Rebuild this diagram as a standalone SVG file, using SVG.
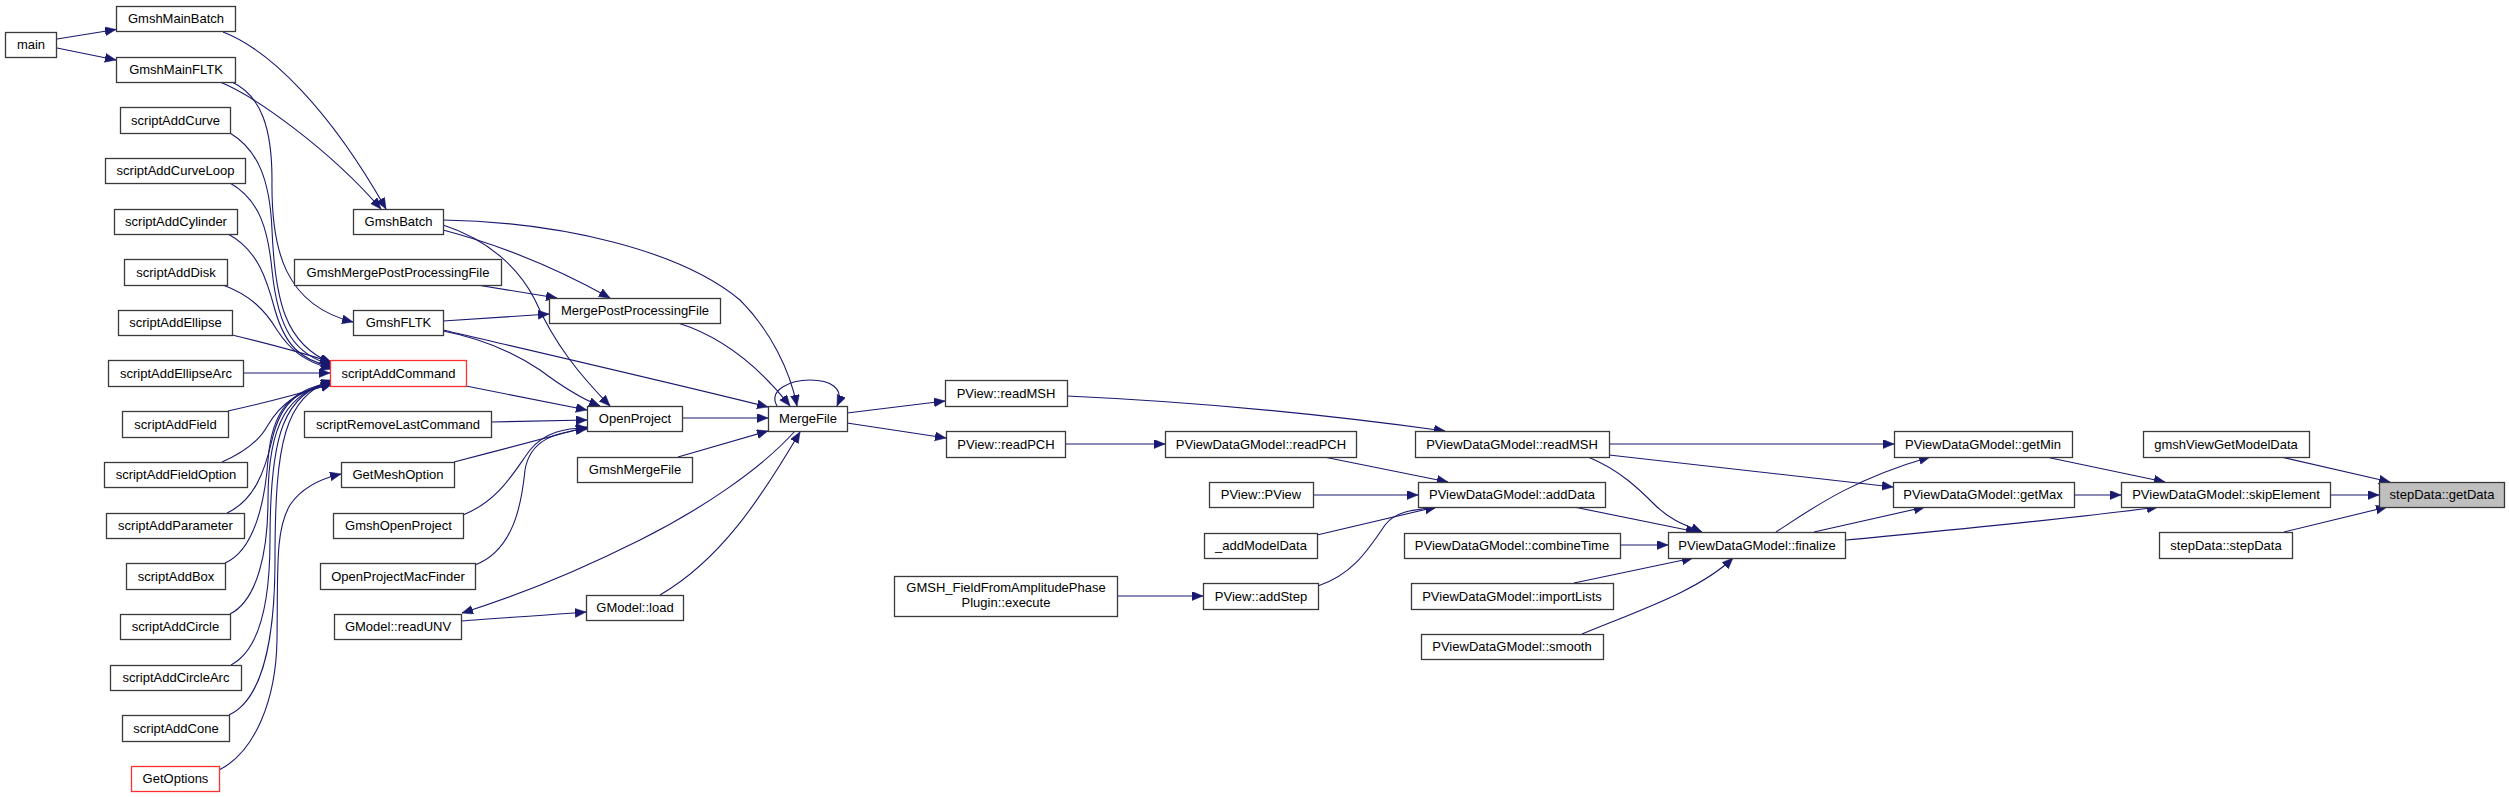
<svg xmlns="http://www.w3.org/2000/svg" width="2509" height="797" viewBox="0 0 2509 797">
<defs>
<marker id="ah" markerUnits="userSpaceOnUse" markerWidth="12" markerHeight="10" refX="11" refY="4.5" orient="auto">
<path d="M0,0 L11,4.5 L0,9 z" fill="#191970" stroke="#191970" stroke-width="0.5"/>
</marker>
</defs>
<style>
.n rect{fill:#ffffff;stroke:#3a3a3a;stroke-width:1.3}
.r rect{stroke:#ff3030}
.g rect{fill:#bfbfbf}
text{font-family:"Liberation Sans",Arial,Helvetica,sans-serif;font-size:13px;fill:#000000;text-anchor:middle}
#edges path{fill:none;stroke:#191970;stroke-width:1.1;marker-end:url(#ah)}
</style>
<rect width="2509" height="797" fill="#ffffff"/>
<g id="edges">
<path d="M57,39 L116,29.5"/>
<path d="M57,48 L116,60"/>
<path d="M223,32 C270,50 330,110 386,209"/>
<path d="M220,82 C255,96 330,150 381,209"/>
<path d="M232,82 C262,96 272,130 272,180 C271,250 285,305 353,322"/>
<path d="M230,133 C258,150 270,180 272,230 C275,300 285,345 332,363"/>
<path d="M230,183 C260,200 268,230 272,270 C278,330 295,355 332,365"/>
<path d="M228,234 C258,250 267,280 275,310 C285,345 300,360 332,367"/>
<path d="M223,285 C250,295 265,310 277,330 C290,350 305,362 332,369"/>
<path d="M232,335 C270,344 300,352 331,362"/>
<path d="M243,373 L330,373"/>
<path d="M228,411 C260,404 295,395 332,384"/>
<path d="M222,462 C245,452 260,440 268,425 C280,405 295,392 332,384"/>
<path d="M227,513 C255,500 265,470 272,440 C280,405 295,390 332,383"/>
<path d="M225,563 C255,550 265,500 268,460 C272,410 290,390 332,382"/>
<path d="M230,614 C258,600 268,550 268,500 C268,420 290,392 332,382"/>
<path d="M231,665 C260,650 270,600 270,540 C270,430 285,395 332,381"/>
<path d="M229,715 C262,700 275,640 275,560 C275,440 285,398 332,380"/>
<path d="M219,770 C255,752 276,700 277,640 C278,570 275,530 290,505 C300,490 315,480 341,474"/>
<path d="M443,220 C560,222 680,250 740,300 C770,330 790,370 797,406"/>
<path d="M443,230 C500,245 560,270 610,298"/>
<path d="M443,225 C490,240 520,270 535,300 C555,345 580,375 610,406"/>
<path d="M477,285 L557,298"/>
<path d="M443,321 L549,314"/>
<path d="M443,331 C480,338 510,350 540,370 C560,385 580,398 600,406"/>
<path d="M443,330 C550,355 680,385 768,407"/>
<path d="M466,386 L587,410"/>
<path d="M491,422 L587,420"/>
<path d="M454,462 C500,450 550,437 587,427"/>
<path d="M463,515 C500,500 515,470 530,450 C545,432 565,428 587,428"/>
<path d="M475,565 C515,550 522,500 525,470 C530,440 555,432 587,429"/>
<path d="M678,323 C710,333 750,355 790,406"/>
<path d="M682,418 L768,418"/>
<path d="M678,457 L768,431"/>
<path d="M777,406 C768,390 790,380 810,380 C830,380 845,388 837,406"/>
<path d="M795,431 C760,470 700,510 640,540 C580,570 520,595 462,613"/>
<path d="M461,621 C500,618 550,615 586,612"/>
<path d="M660,595 C720,560 760,500 800,432"/>
<path d="M847,413 L945,401"/>
<path d="M847,423 L946,438"/>
<path d="M1067,396 C1200,402 1330,415 1445,431"/>
<path d="M1065,444 L1165,444"/>
<path d="M1324,457 L1448,482"/>
<path d="M1313,495 L1418,495"/>
<path d="M1317,535 L1436,507"/>
<path d="M1318,586 C1350,575 1365,555 1385,525 C1395,512 1410,510 1437,507"/>
<path d="M1117,596 L1203,596"/>
<path d="M1609,444 L1894,444"/>
<path d="M1609,455 L1893,487"/>
<path d="M1588,457 C1620,470 1640,490 1655,505 C1670,520 1685,525 1702,532"/>
<path d="M1574,507 L1697,532"/>
<path d="M1620,545 L1668,545"/>
<path d="M1574,583 L1693,558"/>
<path d="M1582,634 C1640,610 1700,590 1733,558"/>
<path d="M1776,532 C1810,510 1850,480 1930,457"/>
<path d="M1814,532 L1925,507"/>
<path d="M1846,540 C1950,530 2060,520 2158,507"/>
<path d="M2046,457 L2165,482"/>
<path d="M2074,495 L2121,495"/>
<path d="M2281,457 L2390,482"/>
<path d="M2330,495 L2379,495"/>
<path d="M2284,532 L2387,507"/>
</g>
<g id="main" class="n"><rect x="5.5" y="32.5" width="51" height="25"/><text x="31" y="49">main</text></g>
<g id="GmshMainBatch" class="n"><rect x="116.5" y="6.5" width="119" height="25"/><text x="176" y="23">GmshMainBatch</text></g>
<g id="GmshMainFLTK" class="n"><rect x="116.5" y="57.5" width="119" height="25"/><text x="176" y="74">GmshMainFLTK</text></g>
<g id="scriptAddCurve" class="n"><rect x="120.5" y="107.5" width="110" height="26"/><text x="175.5" y="125">scriptAddCurve</text></g>
<g id="scriptAddCurveLoop" class="n"><rect x="105.5" y="158.5" width="140" height="25"/><text x="175.5" y="175">scriptAddCurveLoop</text></g>
<g id="scriptAddCylinder" class="n"><rect x="114.5" y="209.5" width="123" height="25"/><text x="176" y="226">scriptAddCylinder</text></g>
<g id="scriptAddDisk" class="n"><rect x="124.5" y="259.5" width="103" height="26"/><text x="176" y="277">scriptAddDisk</text></g>
<g id="scriptAddEllipse" class="n"><rect x="118.5" y="310.5" width="114" height="25"/><text x="175.5" y="327">scriptAddEllipse</text></g>
<g id="scriptAddEllipseArc" class="n"><rect x="108.5" y="360.5" width="135" height="26"/><text x="176" y="378">scriptAddEllipseArc</text></g>
<g id="scriptAddField" class="n"><rect x="122.5" y="411.5" width="106" height="26"/><text x="175.5" y="429">scriptAddField</text></g>
<g id="scriptAddFieldOption" class="n"><rect x="104.5" y="462.5" width="143" height="25"/><text x="176" y="479">scriptAddFieldOption</text></g>
<g id="scriptAddParameter" class="n"><rect x="106.5" y="513.5" width="138" height="25"/><text x="175.5" y="530">scriptAddParameter</text></g>
<g id="scriptAddBox" class="n"><rect x="126.5" y="563.5" width="99" height="26"/><text x="176" y="581">scriptAddBox</text></g>
<g id="scriptAddCircle" class="n"><rect x="120.5" y="614.5" width="110" height="25"/><text x="175.5" y="631">scriptAddCircle</text></g>
<g id="scriptAddCircleArc" class="n"><rect x="110.5" y="665.5" width="131" height="25"/><text x="176" y="682">scriptAddCircleArc</text></g>
<g id="scriptAddCone" class="n"><rect x="122.5" y="715.5" width="107" height="26"/><text x="176" y="733">scriptAddCone</text></g>
<g id="GetOptions" class="n r"><rect x="131.5" y="766.5" width="88" height="25"/><text x="175.5" y="783">GetOptions</text></g>
<g id="GmshBatch" class="n"><rect x="353.5" y="209.5" width="90" height="25"/><text x="398.5" y="226">GmshBatch</text></g>
<g id="GmshMergePostProcessingFile" class="n"><rect x="294.5" y="259.5" width="207" height="26"/><text x="398" y="277">GmshMergePostProcessingFile</text></g>
<g id="GmshFLTK" class="n"><rect x="353.5" y="310.5" width="90" height="25"/><text x="398.5" y="327">GmshFLTK</text></g>
<g id="scriptAddCommand" class="n r"><rect x="330.5" y="360.5" width="136" height="26"/><text x="398.5" y="378">scriptAddCommand</text></g>
<g id="scriptRemoveLastCommand" class="n"><rect x="304.5" y="411.5" width="187" height="26"/><text x="398" y="429">scriptRemoveLastCommand</text></g>
<g id="GetMeshOption" class="n"><rect x="341.5" y="462.5" width="113" height="25"/><text x="398" y="479">GetMeshOption</text></g>
<g id="GmshOpenProject" class="n"><rect x="333.5" y="513.5" width="130" height="25"/><text x="398.5" y="530">GmshOpenProject</text></g>
<g id="OpenProjectMacFinder" class="n"><rect x="320.5" y="563.5" width="155" height="26"/><text x="398" y="581">OpenProjectMacFinder</text></g>
<g id="GModel_readUNV" class="n"><rect x="334.5" y="614.5" width="127" height="25"/><text x="398" y="631">GModel::readUNV</text></g>
<g id="MergePostProcessingFile" class="n"><rect x="549.5" y="298.5" width="171" height="25"/><text x="635" y="315">MergePostProcessingFile</text></g>
<g id="OpenProject" class="n"><rect x="587.5" y="406.5" width="95" height="25"/><text x="635" y="423">OpenProject</text></g>
<g id="GmshMergeFile" class="n"><rect x="577.5" y="457.5" width="115" height="25"/><text x="635" y="474">GmshMergeFile</text></g>
<g id="GModel_load" class="n"><rect x="586.5" y="595.5" width="97" height="25"/><text x="635" y="612">GModel::load</text></g>
<g id="MergeFile" class="n"><rect x="768.5" y="406.5" width="79" height="25"/><text x="808" y="423">MergeFile</text></g>
<g id="PView_readMSH" class="n"><rect x="945.5" y="380.5" width="122" height="26"/><text x="1006" y="398">PView::readMSH</text></g>
<g id="PView_readPCH" class="n"><rect x="946.5" y="431.5" width="119" height="26"/><text x="1006" y="449">PView::readPCH</text></g>
<g id="GMSH_FieldFromAmplitudePhasePlugin_execute" class="n"><rect x="894.5" y="576.5" width="223" height="40"/><text x="1006" y="592">GMSH_FieldFromAmplitudePhase</text><text x="1006" y="607">Plugin::execute</text></g>
<g id="PViewDataGModel_readPCH" class="n"><rect x="1165.5" y="431.5" width="191" height="26"/><text x="1261" y="449">PViewDataGModel::readPCH</text></g>
<g id="PView_PView" class="n"><rect x="1209.5" y="482.5" width="104" height="25"/><text x="1261" y="499">PView::PView</text></g>
<g id="_addModelData" class="n"><rect x="1204.5" y="533.5" width="113" height="25"/><text x="1261" y="550">_addModelData</text></g>
<g id="PView_addStep" class="n"><rect x="1203.5" y="583.5" width="115" height="26"/><text x="1261" y="601">PView::addStep</text></g>
<g id="PViewDataGModel_readMSH" class="n"><rect x="1415.5" y="431.5" width="194" height="26"/><text x="1512" y="449">PViewDataGModel::readMSH</text></g>
<g id="PViewDataGModel_addData" class="n"><rect x="1418.5" y="482.5" width="187" height="25"/><text x="1512" y="499">PViewDataGModel::addData</text></g>
<g id="PViewDataGModel_combineTime" class="n"><rect x="1404.5" y="533.5" width="216" height="25"/><text x="1512" y="550">PViewDataGModel::combineTime</text></g>
<g id="PViewDataGModel_importLists" class="n"><rect x="1411.5" y="583.5" width="202" height="26"/><text x="1512" y="601">PViewDataGModel::importLists</text></g>
<g id="PViewDataGModel_smooth" class="n"><rect x="1421.5" y="634.5" width="182" height="25"/><text x="1512" y="651">PViewDataGModel::smooth</text></g>
<g id="PViewDataGModel_finalize" class="n"><rect x="1668.5" y="532.5" width="177" height="26"/><text x="1757" y="550">PViewDataGModel::finalize</text></g>
<g id="PViewDataGModel_getMin" class="n"><rect x="1894.5" y="431.5" width="178" height="26"/><text x="1983" y="449">PViewDataGModel::getMin</text></g>
<g id="PViewDataGModel_getMax" class="n"><rect x="1893.5" y="482.5" width="181" height="25"/><text x="1983" y="499">PViewDataGModel::getMax</text></g>
<g id="gmshViewGetModelData" class="n"><rect x="2143.5" y="431.5" width="166" height="26"/><text x="2226" y="449">gmshViewGetModelData</text></g>
<g id="PViewDataGModel_skipElement" class="n"><rect x="2121.5" y="482.5" width="209" height="25"/><text x="2226" y="499">PViewDataGModel::skipElement</text></g>
<g id="stepData_stepData" class="n"><rect x="2159.5" y="532.5" width="133" height="26"/><text x="2226" y="550">stepData::stepData</text></g>
<g id="stepData_getData" class="n g"><rect x="2379.5" y="482.5" width="125" height="25"/><text x="2442" y="499">stepData::getData</text></g>
</svg>
